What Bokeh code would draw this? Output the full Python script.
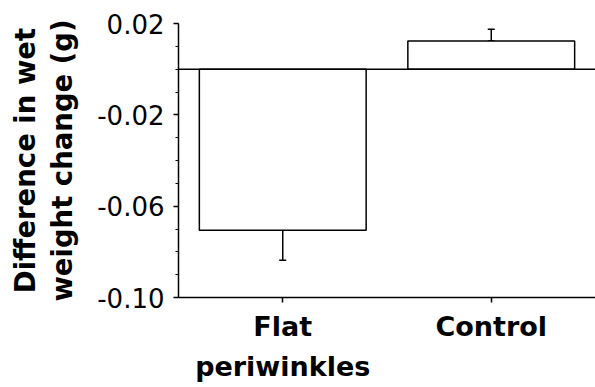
from bokeh.plotting import figure
from bokeh.models import (FactorRange, Range1d, Span, Whisker, ColumnDataSource,
                          FixedTicker, PrintfTickFormatter, TeeHead)
from bokeh.embed import file_html
from bokeh.resources import INLINE

# ---- data ----
categories = ["Flat\nperiwinkles", "Control"]
values = [-0.0705, 0.0123]
errors = [0.0132, 0.0052]
y_major_ticks = [0.02, -0.02, -0.06, -0.10]
y_minor_ticks = [0.02, 0.01, 0.0, -0.01, -0.02, -0.03, -0.04, -0.05,
                 -0.06, -0.07, -0.08, -0.09, -0.10]
y_label = "Difference in wet\nweight change (g)"

# error bars extend away from zero only
err_end = [v - e if v < 0 else v + e for v, e in zip(values, errors)]
err_lo = [min(v, e) for v, e in zip(values, err_end)]
err_hi = [max(v, e) for v, e in zip(values, err_end)]

src = ColumnDataSource(dict(cat=categories, val=values, lo=err_lo, hi=err_hi))

p = figure(width=595, height=387, output_backend="svg", toolbar_location=None,
           x_range=FactorRange(factors=categories, range_padding=0),
           y_range=Range1d(-0.10, 0.02),
           min_border_left=178, min_border_right=0, min_border_top=23,
           min_border_bottom=90)

p.outline_line_color = None
p.xgrid.grid_line_color = None
p.ygrid.grid_line_color = None

p.vbar(x="cat", top="val", bottom=0, width=0.8, source=src,
       fill_color="white", line_color="black", line_width=1.5)

w = Whisker(base="cat", lower="lo", upper="hi", source=src,
            line_color="black", line_width=1.5,
            upper_head=TeeHead(size=7, line_color="black", line_width=1.5),
            lower_head=TeeHead(size=7, line_color="black", line_width=1.5))
p.add_layout(w)

p.add_layout(Span(location=0, dimension="width", line_color="black", line_width=1.5))

# y axis
ya = p.yaxis[0]
ya.ticker = FixedTicker(ticks=y_major_ticks, minor_ticks=y_minor_ticks)
ya.formatter = PrintfTickFormatter(format="%.2f")
ya.axis_label = y_label
ya.axis_label_text_font = "DejaVu Sans"
ya.axis_label_text_font_style = "bold"
ya.axis_label_text_font_size = "27.5px"
ya.axis_label_text_color = "black"
ya.axis_label_text_line_height = 1.15
ya.axis_label_standoff = 16
ya.major_label_text_font = "DejaVu Sans"
ya.major_label_text_font_size = "26px"
ya.major_label_text_color = "black"
ya.major_label_standoff = 9
ya.axis_line_width = 1.5
ya.major_tick_line_width = 1.5
ya.minor_tick_line_width = 1.2
ya.major_tick_in = 0
ya.major_tick_out = 5
ya.minor_tick_in = 0
ya.minor_tick_out = 3

# x axis
xa = p.xaxis[0]
xa.major_label_text_font = "DejaVu Sans"
xa.major_label_text_font_style = "bold"
xa.major_label_text_font_size = "27px"
xa.major_label_text_color = "black"
xa.major_label_text_line_height = 1.3
xa.major_label_standoff = 8
xa.axis_line_width = 1.5
xa.major_tick_line_width = 1.5
xa.major_tick_in = 0
xa.major_tick_out = 5
xa.minor_tick_line_color = None

open("out.html", "w").write(file_html(p, INLINE))
